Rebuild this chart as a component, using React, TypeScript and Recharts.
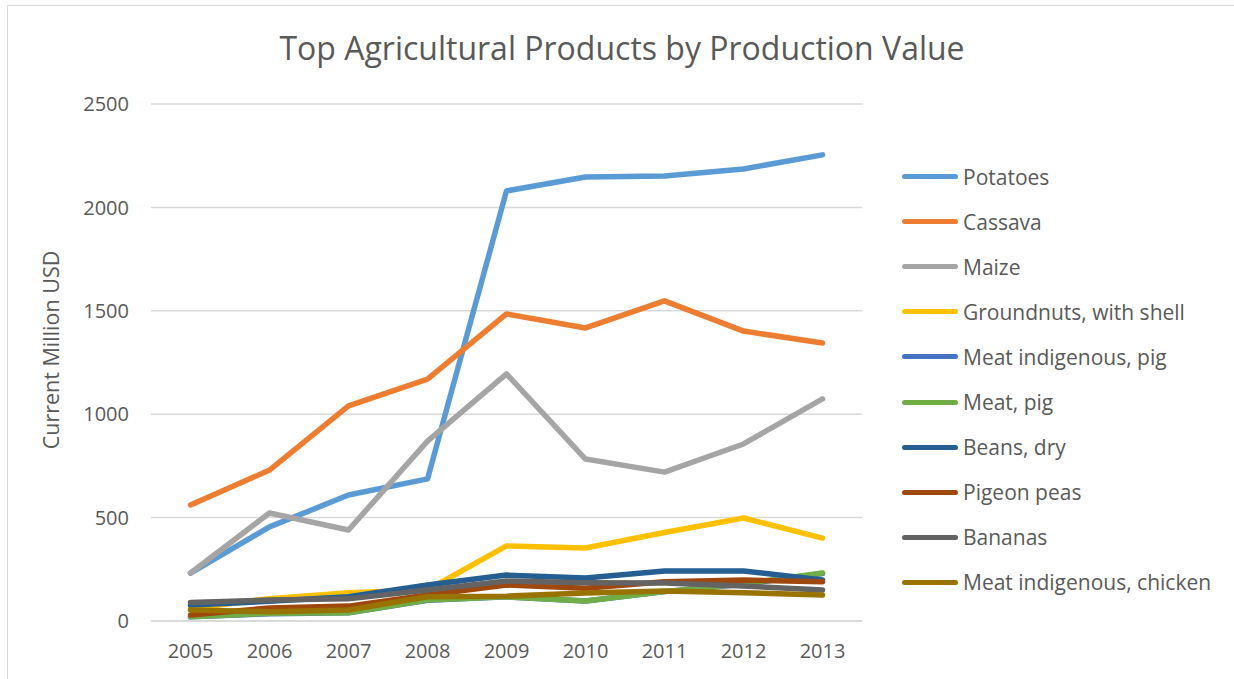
import { LineChart, Line, XAxis, YAxis, CartesianGrid, Legend } from "recharts";

const years = ["2005", "2006", "2007", "2008", "2009", "2010", "2011", "2012", "2013"];

const potatoes = [232, 455, 609, 687, 2080, 2147, 2152, 2186, 2254];
const cassava = [561, 730, 1040, 1170, 1485, 1417, 1548, 1402, 1344];
const maize = [232, 522, 440, 870, 1195, 783, 720, 856, 1074];
const groundnuts = [60, 108, 137, 150, 363, 353, 428, 498, 401];
const meatIndigenousPig = [20, 35, 40, 100, 117, 97, 142, 178, 230];
const meatPig = [21, 37, 40, 101, 117, 97, 142, 180, 232];
const beansDry = [77, 95, 117, 174, 222, 208, 242, 242, 198];
const pigeonPeas = [29, 63, 72, 126, 174, 158, 190, 198, 190];
const bananas = [90, 101, 107, 150, 193, 185, 184, 169, 150];
const meatIndigenousChicken = [53, 45, 53, 117, 120, 135, 145, 137, 126];

const yTicks = [0, 500, 1000, 1500, 2000, 2500];

const series = [
  { key: "Potatoes", values: potatoes, color: "#5B9BD5" },
  { key: "Cassava", values: cassava, color: "#ED7D31" },
  { key: "Maize", values: maize, color: "#A5A5A5" },
  { key: "Groundnuts, with shell", values: groundnuts, color: "#FFC000" },
  { key: "Meat indigenous, pig", values: meatIndigenousPig, color: "#4472C4" },
  { key: "Meat, pig", values: meatPig, color: "#70AD47" },
  { key: "Beans, dry", values: beansDry, color: "#255E91" },
  { key: "Pigeon peas", values: pigeonPeas, color: "#9E480E" },
  { key: "Bananas", values: bananas, color: "#636363" },
  { key: "Meat indigenous, chicken", values: meatIndigenousChicken, color: "#997300" },
];

const data = years.map((y, i) => {
  const row: Record<string, string | number> = { year: y };
  series.forEach(s => { row[s.key] = s.values[i]; });
  return row;
});

const FONT = "'Open Sans', sans-serif";
const TEXT = "#595959";

const LegendBox = () => (
  <div style={{ fontFamily: FONT }}>
    {series.map(s => (
      <div key={s.key} style={{ display: "flex", alignItems: "center", height: 45.1 }}>
        <div style={{ width: 56, height: 5, borderRadius: 3, background: s.color, marginRight: 5 }} />
        <span style={{ fontSize: 21, color: TEXT, whiteSpace: "nowrap" }}>{s.key}</span>
      </div>
    ))}
  </div>
);

export default function App() {
  return (
    <div style={{ position: "absolute", left: 0, top: 0, width: 1234, height: 679, background: "#fff", overflow: "hidden" }}>
      <div style={{ position: "absolute", left: 7, top: 5, width: 1240, height: 690, border: "1px solid #d9d9d9" }} />
      <div style={{ position: "absolute", left: 0, top: 26, width: 1244, textAlign: "center", fontFamily: FONT, fontSize: 32, color: TEXT }}>
        Top Agricultural Products by Production Value
      </div>
      <LineChart width={1234} height={679} data={data} margin={{ top: 104, right: 372, bottom: 18, left: 0 }} style={{ position: "absolute", left: 0, top: 0 }}>
        <CartesianGrid vertical={false} stroke="#d9d9d9" strokeWidth={1.5} />
        <XAxis
          dataKey="year"
          height={40}
          padding={{ left: 39.5, right: 39.5 }}
          axisLine={{ stroke: "#d9d9d9", strokeWidth: 1.5 }}
          tickLine={false}
          tick={{ fill: TEXT, fontSize: 20, fontFamily: FONT }}
          tickMargin={17}
        />
        <YAxis
          domain={[0, 2500]}
          ticks={yTicks}
          width={151}
          axisLine={false}
          tickLine={false}
          tick={{ fill: TEXT, fontSize: 20, fontFamily: FONT }}
          tickMargin={16}
          label={{
            content: () => (
              <text x={50} y={350} transform="rotate(-90 50 350)" textAnchor="middle" dominantBaseline="central" fill={TEXT} fontSize={21.5} fontFamily={FONT}>
                Current Million USD
              </text>
            ),
          }}
        />
        {series.map(s => (
          <Line
            key={s.key}
            type="linear"
            dataKey={s.key}
            stroke={s.color}
            strokeWidth={5.5}
            strokeLinecap="round"
            strokeLinejoin="round"
            dot={false}
            activeDot={false}
            isAnimationActive={false}
          />
        ))}
        <Legend
          layout="vertical"
          align="center"
          verticalAlign="middle"
          content={() => <LegendBox />}
          wrapperStyle={{ position: "absolute", left: 902, top: 154, width: 330 }}
        />
      </LineChart>
    </div>
  );
}
